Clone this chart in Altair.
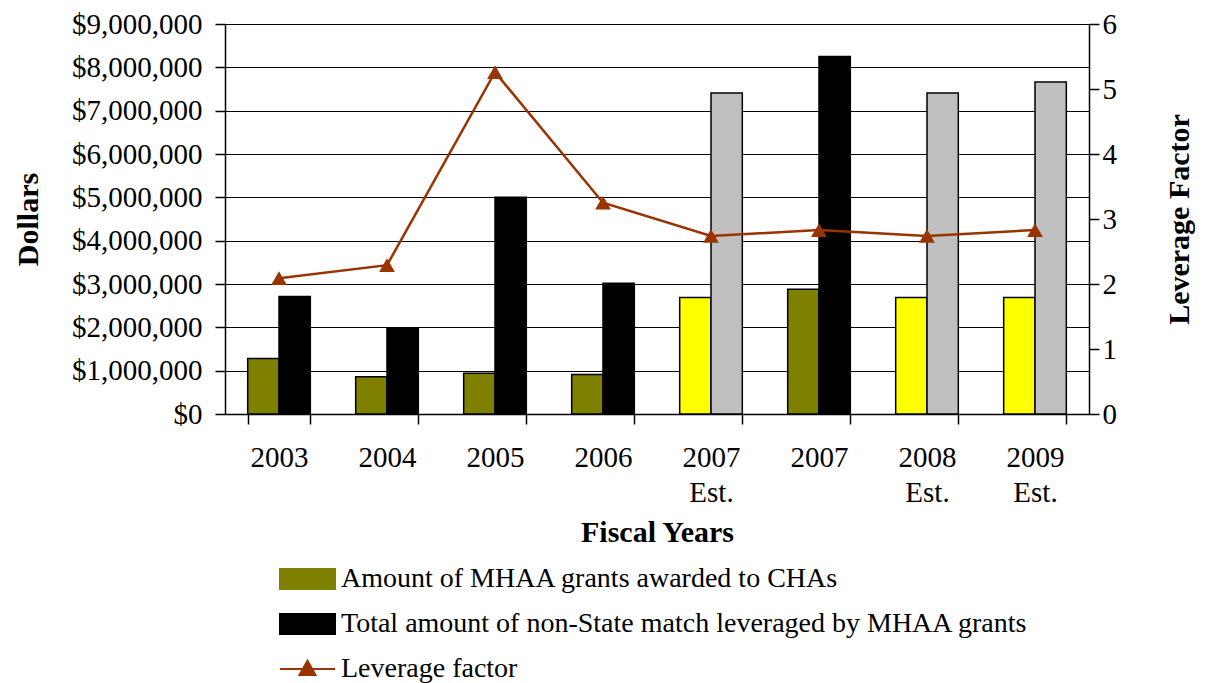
import altair as alt
import pandas as pd

years = ["2003", "2004", "2005", "2006", "2007 Est.", "2007", "2008 Est.", "2009 Est."]
mhaa_grants = [1280000, 860000, 940000, 910000, 2690000, 2880000, 2690000, 2690000]
nonstate_match = [2710000, 1990000, 5000000, 3020000, 7410000, 8250000, 7410000, 7660000]
leverage = [2.09, 2.29, 5.26, 3.25, 2.74, 2.83, 2.74, 2.83]
is_estimate = [False, False, False, False, True, False, True, True]

S1 = "Amount of MHAA grants awarded to CHAs"
S2 = "Total amount of non-State match leveraged by MHAA grants"
S3 = "Leverage factor"

OLIVE = "#808000"
BLACK = "#000000"
YELLOW = "#FFFF00"
GRAY = "#C0C0C0"
RUST = "#993300"

rows = []
for y, a, m, e in zip(years, mhaa_grants, nonstate_match, is_estimate):
    rows.append({"year": y, "series": S1, "value": a, "fillcol": YELLOW if e else OLIVE})
    rows.append({"year": y, "series": S2, "value": m, "fillcol": GRAY if e else BLACK})
bars_df = pd.DataFrame(rows)
lev_df = pd.DataFrame({"year": years, "leverage": leverage, "series": [S3] * len(years)})

FONT = "'Liberation Serif', 'Times New Roman', Times, serif"

x_enc = alt.X(
    "year:N",
    sort=years,
    scale=alt.Scale(paddingInner=0.42, paddingOuter=0.21),
    axis=alt.Axis(
        title="Fiscal Years",
        labelAngle=0,
        labelExpr="split(datum.label, ' ')",
        labelLineHeight=35,
        labelPadding=19,
        tickBand="extent",
        titlePadding=10,
    ),
)

bars = alt.Chart(bars_df).mark_bar(stroke="black", strokeWidth=1.5).encode(
    x=x_enc,
    xOffset=alt.XOffset("series:N", sort=[S1, S2]),
    y=alt.Y(
        "value:Q",
        scale=alt.Scale(domain=[0, 9000000]),
        axis=alt.Axis(
            title="Dollars",
            values=[i * 1000000 for i in range(10)],
            format="$,.0f",
            grid=True,
            labelPadding=13,
            titlePadding=28,
        ),
    ),
    fill=alt.Fill("fillcol:N", scale=None),
)

RECT_PATH = "M-1,-0.36H1V0.36H-1Z"
LINE_PATH = "M-1,0H1M0,-0.3L0.29,0.22H-0.29Z"
is_lev = "datum.value === '" + S3 + "'"
is_s1 = "datum.value === '" + S1 + "'"

legend = alt.Legend(
    title=None,
    orient="none",
    legendX=54,
    legendY=541,
    direction="vertical",
    padding=0,
    clipHeight=28,
    rowPadding=17,
    labelOffset=5,
    labelFont=FONT,
    labelFontSize=28,
    labelFontWeight="normal",
    labelColor="black",
    labelLimit=800,
    symbolSize=3025,
    symbolOpacity=1,
    symbolType={"expr": is_lev + " ? '" + LINE_PATH + "' : '" + RECT_PATH + "'"},
    symbolFillColor={"expr": is_lev + " ? '" + RUST + "' : (" + is_s1 + " ? '" + OLIVE + "' : '" + BLACK + "')"},
    symbolStrokeColor={"expr": is_lev + " ? '" + RUST + "' : '" + BLACK + "'"},
    symbolStrokeWidth=2,
)

lev_axis = alt.Axis(
    title="Leverage Factor",
    orient="right",
    values=[0, 1, 2, 3, 4, 5, 6],
    grid=False,
    labelPadding=3,
    titleAngle=270,
    titleBaseline="top",
    titlePadding=48,
)

line = alt.Chart(lev_df).mark_line(strokeWidth=2.5).encode(
    x=alt.X("year:N", sort=years),
    y=alt.Y("leverage:Q", scale=alt.Scale(domain=[0, 6]), axis=lev_axis),
    stroke=alt.Stroke(
        "series:N",
        scale=alt.Scale(domain=[S1, S2, S3], range=[OLIVE, BLACK, RUST]),
        legend=legend,
    ),
)

points = alt.Chart(lev_df).mark_point(
    shape="triangle-up", filled=True, size=250, color=RUST, opacity=1
).encode(
    x=alt.X("year:N", sort=years),
    y=alt.Y("leverage:Q", scale=alt.Scale(domain=[0, 6]), axis=lev_axis),
)

lev_layer = alt.layer(line, points)

chart = (
    alt.layer(bars, lev_layer)
    .resolve_scale(y="independent")
    .properties(width=864, height=390, padding={"left": 5, "top": 2, "right": 0, "bottom": 0})
    .configure(font=FONT)
    .configure_view(strokeWidth=0)
    .configure_legend(labelFont=FONT, labelFontSize=28, labelColor="black")
    .configure_axis(
        labelFont=FONT,
        labelFontSize=29,
        labelFontWeight="normal",
        labelColor="black",
        titleFont=FONT,
        titleFontSize=30,
        titleFontWeight="bold",
        titleColor="black",
        domainColor="black",
        domainWidth=1.5,
        tickColor="black",
        tickSize=10,
        tickWidth=1.5,
        gridColor="black",
        gridWidth=1.2,
    )
)

chart.save("out.html", embed_options={"renderer": "svg", "actions": False})
